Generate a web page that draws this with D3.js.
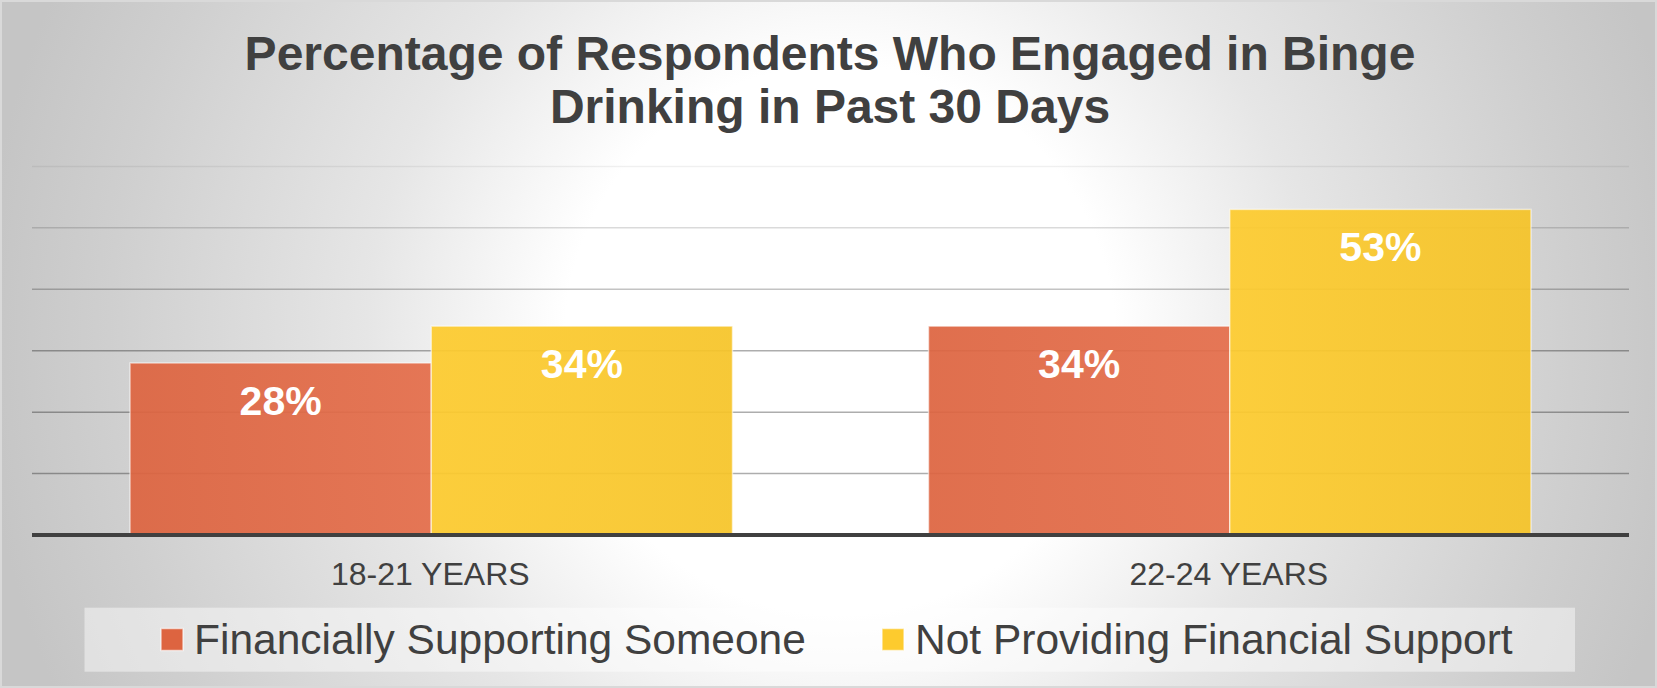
<!DOCTYPE html>
<html><head><meta charset="utf-8">
<script src="https://cdn.jsdelivr.net/npm/d3@7"></script>
<style>html,body{margin:0;padding:0;background:#fff;} svg{display:block;}</style>
</head><body><svg id="chart" width="1657" height="688"></svg>
<script>
const categories = ["18-21 YEARS", "22-24 YEARS"];
const seriesNames = ["Financially Supporting Someone", "Not Providing Financial Support"];
const financiallySupporting = [0.28, 0.34];
const notProviding = [0.34, 0.53];
const titleLines = ["Percentage of Respondents Who Engaged in Binge", "Drinking in Past 30 Days"];
const gridValues = [0.1, 0.2, 0.3, 0.4, 0.5, 0.6];

const W = 1657, H = 688;
const FONT = "'Liberation Sans', Arial, Helvetica, sans-serif";
const svg = d3.select("#chart");
const defs = svg.append("defs");

// background radial gradient
const bg = defs.append("radialGradient").attr("id", "bg")
  .attr("gradientUnits", "userSpaceOnUse")
  .attr("cx", 840).attr("cy", 340).attr("r", 860);
[[0, "#ffffff"], [0.32, "#ffffff"], [0.55, "#e6e6e6"], [0.85, "#cfcfcf"], [1, "#c5c5c5"]]
  .forEach(([o, c]) => bg.append("stop").attr("offset", o).attr("stop-color", c));

const seriesColors = [["#dd6440", "#e46d4a"], ["#fdcb2e", "#f6c428"]];
seriesColors.forEach((c, i) => {
  const g = defs.append("linearGradient").attr("id", "bar" + i)
    .attr("x1", 0).attr("x2", 1).attr("y1", 0).attr("y2", 0);
  g.append("stop").attr("offset", 0).attr("stop-color", c[0]);
  g.append("stop").attr("offset", 1).attr("stop-color", c[1]);
});

svg.append("rect").attr("width", W).attr("height", H).attr("fill", "url(#bg)");
svg.append("rect").attr("x", 1).attr("y", 1).attr("width", W - 2).attr("height", H - 2)
  .attr("fill", "none").attr("stroke", "#d9d9d9").attr("stroke-width", 2);

// title
svg.append("text").attr("x", 830).attr("text-anchor", "middle")
  .attr("font-family", FONT).attr("font-weight", "bold").attr("font-size", 48)
  .attr("fill", "#404040")
  .selectAll("tspan").data(titleLines).join("tspan")
  .attr("x", 830).attr("y", (d, i) => 70 + i * 53).text(d => d);

// scales
const plotLeft = 32, plotRight = 1629, baseY = 535;
const y = d3.scaleLinear().domain([0, 0.6]).range([baseY, 166.4]);
const x0 = d3.scaleBand().domain(categories).range([plotLeft, plotRight]).padding(0);
const groupW = x0.bandwidth() * 0.7545;
const x1 = d3.scaleBand().domain(seriesNames).range([0, groupW]).padding(0);
const groupOffset = (x0.bandwidth() - groupW) / 2;

// gridlines
const gridOpacity = d3.scaleLinear().domain([0.6, 0.3]).range([0.06, 0.32]).clamp(true);
svg.append("g").selectAll("line").data(gridValues).join("line")
  .attr("x1", plotLeft).attr("x2", plotRight)
  .attr("y1", d => y(d)).attr("y2", d => y(d))
  .attr("stroke", "#000").attr("stroke-opacity", d => gridOpacity(d))
  .attr("stroke-width", 1.5);

// bars
const seriesData = [financiallySupporting, notProviding];
const barData = [];
categories.forEach((c, ci) => seriesNames.forEach((s, si) => {
  barData.push({cat: c, ser: s, si, v: seriesData[si][ci]});
}));
const bars = svg.append("g");
bars.selectAll("rect").data(barData).join("rect")
  .attr("x", d => x0(d.cat) + groupOffset + x1(d.ser))
  .attr("y", d => y(d.v))
  .attr("width", x1.bandwidth())
  .attr("height", d => y(0) - y(d.v))
  .attr("fill", d => `url(#bar${d.si})`)
  .attr("fill-opacity", 0.93)
  .attr("stroke", "rgba(255,255,255,0.55)").attr("stroke-width", 1.5);

// value labels
svg.append("g").selectAll("text").data(barData).join("text")
  .attr("x", d => x0(d.cat) + groupOffset + x1(d.ser) + x1.bandwidth() / 2)
  .attr("y", d => y(d.v) + 52)
  .attr("text-anchor", "middle")
  .attr("font-family", FONT).attr("font-weight", "bold").attr("font-size", 41)
  .attr("fill", "#ffffff")
  .text(d => Math.round(d.v * 100) + "%");

// axis line
const xAxis = d3.axisBottom(x0).tickSize(0).tickPadding(0);
const ax = svg.append("g").attr("transform", `translate(0,${baseY})`).call(xAxis);
ax.select(".domain").attr("stroke", "#404040").attr("stroke-width", 4)
  .attr("d", `M${plotLeft},0H${plotRight}`);
ax.selectAll(".tick text")
  .attr("font-family", FONT).attr("font-size", 32).attr("fill", "#404040")
  .attr("dy", null).attr("y", 50)
  .attr("x", -1);

// legend
svg.append("rect").attr("x", 84.5).attr("y", 607.7).attr("width", 1490.5).attr("height", 64)
  .attr("fill", "#ffffff").attr("fill-opacity", 0.45);
const legendX = [161, 882];
const lg = svg.append("g").selectAll("g").data(seriesNames).join("g")
  .attr("transform", (d, i) => `translate(${legendX[i]},0)`);
lg.append("rect").attr("x", 0).attr("y", 628.5).attr("width", 22).attr("height", 22)
  .attr("fill", (d, i) => seriesColors[i][0])
  .attr("stroke", "rgba(255,255,255,0.6)").attr("stroke-width", 1.5);
lg.append("text").attr("x", 33).attr("y", 654.3)
  .attr("font-family", FONT).attr("font-size", 42.5).attr("fill", "#404040")
  .text(d => d);
</script></body></html>
